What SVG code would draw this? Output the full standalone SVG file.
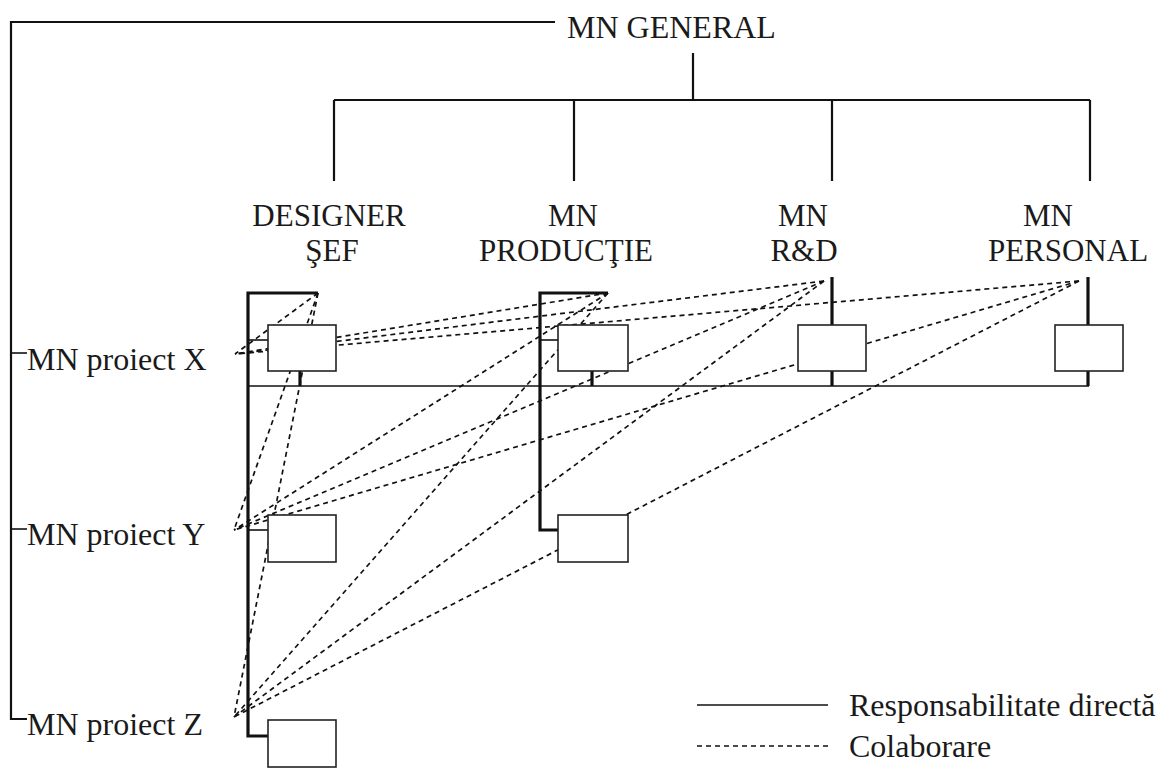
<svg xmlns="http://www.w3.org/2000/svg" width="1169" height="769" viewBox="0 0 1169 769">
<style>
  text { font-family: "Liberation Serif", "Times New Roman", "DejaVu Serif", serif; font-size: 32px; fill: #1a1a1a; }
  .mid { text-anchor: middle; }
  .head { font-size: 31px; }
  .thin { stroke: #111; stroke-width: 1.6; fill: none; }
  .med { stroke: #111; stroke-width: 2.2; fill: none; }
  .thick { stroke: #111; stroke-width: 3.2; fill: none; }
  .box { stroke: #222; stroke-width: 1.6; fill: #fff; }
  .dash { stroke: #111; stroke-width: 1.7; stroke-dasharray: 5 4; fill: none; }
</style>
<rect width="1169" height="769" fill="#fff"/>

<g id="connectors">
  <polyline class="med" points="555,22 11,22 11,719 27,719"/>
  <line class="thin" x1="11" y1="353" x2="27" y2="353"/>
  <line class="thin" x1="11" y1="529" x2="27" y2="529"/>
  <line class="med" x1="693" y1="53" x2="693" y2="100"/>
  <line class="med" x1="334" y1="100" x2="1090" y2="100"/>
  <line class="med" x1="334" y1="100" x2="334" y2="181"/>
  <line class="med" x1="574" y1="100" x2="574" y2="181"/>
  <line class="med" x1="832" y1="100" x2="832" y2="181"/>
  <line class="med" x1="1090" y1="100" x2="1090" y2="181"/>
  <polyline class="thick" points="318,293 248,293 248,736 268,736"/>
  <line class="thin" x1="248" y1="340" x2="268" y2="340"/>
  <line class="thin" x1="248" y1="530" x2="268" y2="530"/>
  <line class="thick" x1="300" y1="371" x2="300" y2="386"/>
  <polyline class="thick" points="608,293 540,293 540,530 558,530"/>
  <line class="thin" x1="540" y1="340" x2="558" y2="340"/>
  <line class="thick" x1="592" y1="371" x2="592" y2="386"/>
  <line class="thick" x1="832" y1="277" x2="832" y2="325"/>
  <line class="thick" x1="832" y1="371" x2="832" y2="386"/>
  <line class="thick" x1="1088" y1="277" x2="1088" y2="325"/>
  <line class="thick" x1="1088" y1="371" x2="1088" y2="386"/>
  <line class="thin" x1="248" y1="386" x2="1089" y2="386"/>

  <g id="collab">
    <line class="dash" x1="318" y1="293" x2="235" y2="354"/>
    <line class="dash" x1="318" y1="293" x2="234" y2="530"/>
    <line class="dash" x1="318" y1="293" x2="234" y2="717"/>
    <line class="dash" x1="608" y1="293" x2="235" y2="354"/>
    <line class="dash" x1="608" y1="293" x2="234" y2="530"/>
    <line class="dash" x1="608" y1="293" x2="234" y2="717"/>
    <line class="dash" x1="824" y1="281" x2="235" y2="354"/>
    <line class="dash" x1="824" y1="281" x2="234" y2="530"/>
    <line class="dash" x1="824" y1="281" x2="234" y2="717"/>
    <line class="dash" x1="1079" y1="281" x2="235" y2="354"/>
    <line class="dash" x1="1079" y1="281" x2="234" y2="530"/>
    <line class="dash" x1="1079" y1="281" x2="234" y2="717"/>
  </g>
</g>

<g id="mn-general"><text x="567" y="38">MN GENERAL</text></g>
<g id="designer-sef"><text class="mid head" x="329" y="226">DESIGNER</text><text class="mid head" x="332" y="261">ŞEF</text></g>
<g id="mn-productie"><text class="mid head" x="573" y="226">MN</text><text class="mid head" x="566" y="261">PRODUCŢIE</text></g>
<g id="mn-rd"><text class="mid head" x="803" y="226">MN</text><text class="mid head" x="804" y="261">R&amp;D</text></g>
<g id="mn-personal"><text class="mid head" x="1048" y="226">MN</text><text class="mid head" x="1068" y="261">PERSONAL</text></g>

<g id="proiect-x"><text x="27" y="370">MN proiect X</text></g>
<g id="proiect-y"><text x="27" y="545">MN proiect Y</text></g>
<g id="proiect-z"><text x="27" y="735">MN proiect Z</text></g>

<g id="box-ds-x"><rect class="box" x="268" y="325" width="68" height="46"/></g>
<g id="box-pr-x"><rect class="box" x="558" y="325" width="70" height="46"/></g>
<g id="box-rd-x"><rect class="box" x="798" y="325" width="68" height="46"/></g>
<g id="box-pe-x"><rect class="box" x="1055" y="325" width="68" height="46"/></g>
<g id="box-ds-y"><rect class="box" x="268" y="515" width="68" height="47"/></g>
<g id="box-pr-y"><rect class="box" x="558" y="515" width="70" height="47"/></g>
<g id="box-ds-z"><rect class="box" x="268" y="720" width="68" height="47"/></g>

<g id="legend">
  <line class="thin" x1="697" y1="705" x2="828" y2="705"/>
  <text x="849" y="716">Responsabilitate directă</text>
  <line class="dash" x1="697" y1="746" x2="828" y2="746" stroke-dasharray="3 3" stroke-width="1.3"/>
  <text x="849" y="757">Colaborare</text>
</g>
</svg>
